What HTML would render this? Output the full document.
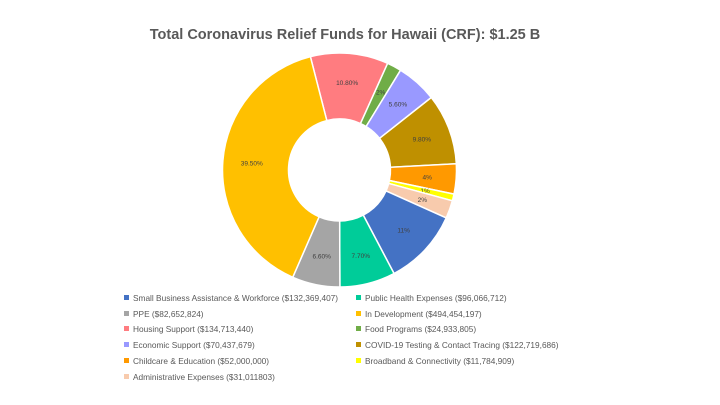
<!DOCTYPE html>
<html><head><meta charset="utf-8"><style>
body{margin:0;background:#fff;font-family:"Liberation Sans",sans-serif;}
#wrap{position:relative;width:720px;height:405px;overflow:hidden;}
.title{position:absolute;left:0;width:690px;top:27px;text-align:center;font-size:14.5px;font-weight:bold;color:#595959;}
.leg{position:absolute;font-size:8.3px;color:#595959;white-space:nowrap;}
.leg i{display:inline-block;width:5px;height:5px;margin-right:4px;vertical-align:1px;}
</style></head><body>
<div id="wrap">
<div class="title">Total Coronavirus Relief Funds for Hawaii (CRF): $1.25 B</div>
<svg id="pie" width="720" height="405" style="position:absolute;left:0;top:0"></svg>
<div id="legend"></div>
</div>
<script>
const sliceNames=["Housing Support","Food Programs","Economic Support","COVID-19 Testing & Contact Tracing","Childcare & Education","Broadband & Connectivity","Administrative Expenses","Small Business Assistance & Workforce","Public Health Expenses","PPE","In Development"];
const sliceValues=[134713440,24933805,70437679,122719686,52000000,11784909,31011803,132369407,96066712,82652824,494454197];
const sliceLabels=["10.80%","2%","5.60%","9.80%","4%","1%","2%","11%","7.70%","6.60%","39.50%"];
const sliceColors=["#ff7c80","#70ad47","#9999ff","#bf9000","#ff9900","#ffff00","#f8cbad","#4472c4","#00cc99","#a5a5a5","#ffc000"];
const legendNames=["Small Business Assistance & Workforce ($132,369,407)","Public Health Expenses ($96,066,712)","PPE ($82,652,824)","In Development ($494,454,197)","Housing Support ($134,713,440)","Food Programs ($24,933,805)","Economic Support ($70,437,679)","COVID-19 Testing & Contact Tracing ($122,719,686)","Childcare & Education ($52,000,000)","Broadband & Connectivity ($11,784,909)","Administrative Expenses ($31,011803)"];
const legendColors=["#4472c4","#00cc99","#a5a5a5","#ffc000","#ff7c80","#70ad47","#9999ff","#bf9000","#ff9900","#ffff00","#f8cbad"];
const NS="http://www.w3.org/2000/svg";
const svg=document.getElementById('pie');
const cx=339.5,cy=170,R=117,r=51,start=-14.4*Math.PI/180;
const total=sliceValues.reduce((a,b)=>a+b,0);
function pt(a,rad){return [cx+rad*Math.sin(a),cy-rad*Math.cos(a)];}
let a0=start;
sliceValues.forEach((v,i)=>{
  const a1=a0+v/total*2*Math.PI;
  const large=(a1-a0)>Math.PI?1:0;
  const [x0,y0]=pt(a0,R),[x1,y1]=pt(a1,R),[x2,y2]=pt(a1,r),[x3,y3]=pt(a0,r);
  const p=document.createElementNS(NS,'path');
  p.setAttribute('d',`M${x0},${y0}A${R},${R} 0 ${large} 1 ${x1},${y1}L${x2},${y2}A${r},${r} 0 ${large} 0 ${x3},${y3}Z`);
  p.setAttribute('fill',sliceColors[i]);p.setAttribute('stroke','#fff');p.setAttribute('stroke-width','1.5');
  
  
  svg.appendChild(p);
  const am=(a0+a1)/2;const [lx,ly]=pt(am,(R+r)/2+4);
  const t=document.createElementNS(NS,'text');
  t.setAttribute('x',lx);t.setAttribute('y',ly+2.5);t.setAttribute('text-anchor','middle');
  t.setAttribute('font-size','6.5');t.setAttribute('fill','#404040');t.setAttribute('font-family','Liberation Sans, sans-serif');
  t.textContent=sliceLabels[i];
  
  
  svg.appendChild(t);
  a0=a1;
});
const lg=document.getElementById('legend');
legendNames.forEach((n,i)=>{
  const d=document.createElement('div');d.className='leg';
  d.style.left=(i%2?356:124)+'px';d.style.top=(293+Math.floor(i/2)*15.7)+'px';
  d.innerHTML='<i style="background:'+legendColors[i]+'"></i>'+n.replace(/&/g,'&amp;');
  
  
  lg.appendChild(d);
});
</script>
</body></html>
